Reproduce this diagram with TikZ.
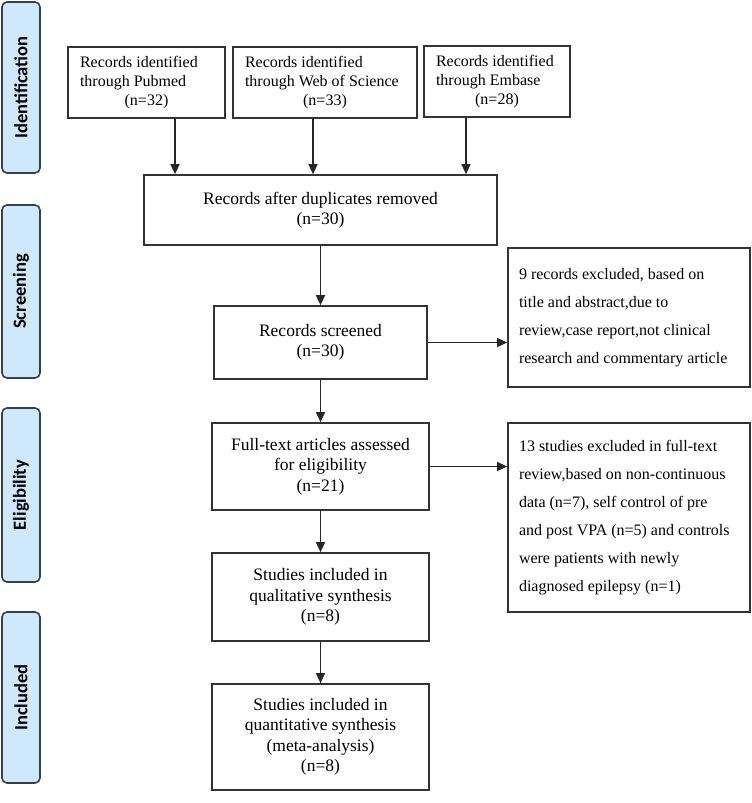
\documentclass[tikz,border=0pt]{standalone}
\usepackage{fontspec}
\setmainfont{Liberation Serif}
\newfontfamily\barfont{Carlito}
\usetikzlibrary{arrows.meta, positioning}
\definecolor{barblue}{RGB}{207,232,252}
\definecolor{barline}{RGB}{55,65,78}

\begin{document}
\begin{tikzpicture}[x=1pt, y=-1pt,
        box/.style={draw=black!80, line width=1.7pt, inner sep=0pt, align=center,
            font=\fontsize{17.5}{20.5}\selectfont},
        topbox/.style={draw=black!80, line width=1.7pt, inner xsep=12pt, inner ysep=0pt,
            minimum height=71pt, align=flush left, font=\fontsize{16}{19}\selectfont},
        exclbox/.style={draw=black!80, line width=1.7pt, inner xsep=11pt, inner ysep=0pt,
            text width=220pt, align=flush left, font=\fontsize{16}{28}\selectfont},
        sidebar/.style={draw=barline, fill=barblue, line width=1.6pt, rounded corners=5pt,
            minimum height=38pt, inner sep=0pt, rotate=90,
            font=\barfont\bfseries\fontsize{18.5}{20}\selectfont},
        arr/.style={-{Triangle[length=10pt, width=9pt]}, line width=1.5pt, black!85}]
    \useasboundingbox (0, 0) rectangle (752, 803);

    % phases
    \node (ident) at (21, 87.5)[sidebar, minimum width=171pt]{Identification};
    \node (screen) at (21, 291.5)[sidebar, minimum width=173pt]{Screening};
    \node (elig) at (21, 495)[sidebar, minimum width=174pt]{Eligibility};
    \node (incl) at (21, 697.5)[sidebar, minimum width=171pt]{Included};

    % sources
    \node (pubmed) at (146.5, 82.5)[topbox, text width=133pt]
        {Records identified\\through Pubmed\\\makebox[\hsize]{(n=32)}};
    \node (wos) at (325, 82.5)[topbox, text width=160pt]
        {Records identified\\through Web of Science\\\makebox[\hsize]{(n=33)}};
    \node (embase) at (497, 81.5)[topbox, text width=122pt]
        {Records identified\\through Embase\\\makebox[\hsize]{(n=28)}};

    % main column
    \def\midx{320.5}
    \node (dupl) at (\midx, 210)[box, minimum width=353pt, minimum height=70pt]
        {Records after duplicates removed\\(n=30)};
    \node (screened) at (\midx, 342.5)[box, minimum width=213pt, minimum height=73pt]
        {Records screened\\(n=30)};
    \node (fulltext) at (\midx, 466.5)[box, minimum width=217pt, minimum height=87pt]
        {Full-text articles assessed\\for eligibility\\(n=21)};
    \node (qual) at (\midx, 597)[box, minimum width=217pt, minimum height=88pt]
        {Studies included in\\qualitative synthesis\\(n=8)};
    \node (quant) at (\midx, 737)[box, minimum width=217pt, minimum height=106pt]
        {Studies included in\\quantitative synthesis\\(meta-analysis)\\(n=8)};

    % exclusions
    \node (exclA) at (629, 317.5)[exclbox, minimum height=139pt]
        {9 records excluded, based on\\title and abstract,due to\\review,case report,not clinical\\research and commentary article};
    \node (exclB) at (629, 517.5)[exclbox, minimum height=189pt]
        {13 studies excluded in full-text\\review,based on non-continuous\\data (n=7), self control of pre\\and post VPA (n=5) and controls\\were patients with newly\\diagnosed epilepsy (n=1)};

    \coordinate (a1) at (175, 0);
    \coordinate (a2) at (313, 0);
    \coordinate (a3) at (466, 0);
    \draw[arr] (a1 |- pubmed.south) -- (a1 |- dupl.north);
    \draw[arr] (a2 |- wos.south) -- (a2 |- dupl.north);
    \draw[arr] (a3 |- embase.south) -- (a3 |- dupl.north);

    \draw[arr] (dupl) -- (screened);
    \draw[arr] (screened) -- (fulltext);
    \draw[arr] (fulltext) -- (qual);
    \draw[arr] (qual) -- (quant);
    \draw[arr] (screened.east) -- (screened.east -| exclA.west);
    \draw[arr] (fulltext.east) -- (fulltext.east -| exclB.west);
\end{tikzpicture}
\end{document}
